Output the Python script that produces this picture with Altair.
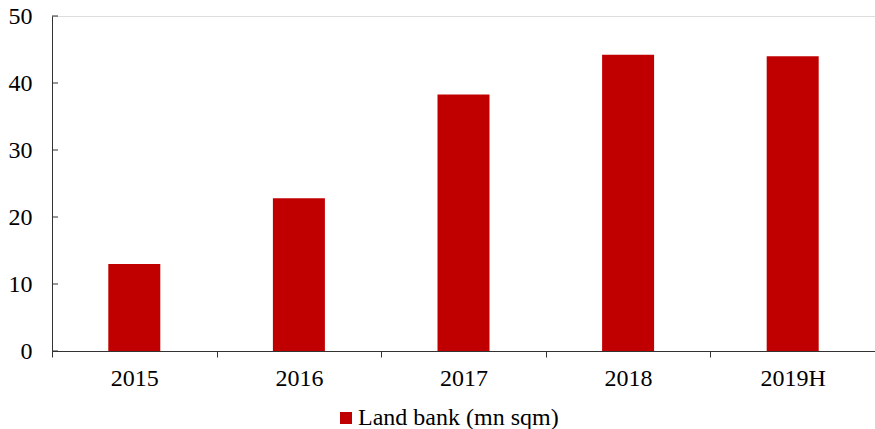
import altair as alt
import pandas as pd

years = ["2015", "2016", "2017", "2018", "2019H"]
values = [13.0, 22.8, 38.3, 44.2, 44.0]
series_name = "Land bank (mn sqm)"
y_ticks = [0, 10, 20, 30, 40, 50]

df = pd.DataFrame({"year": years, "value": values, "series": [series_name] * len(years)})
tick_df = pd.DataFrame({"t": y_ticks})

FONT = "Liberation Serif"

x_enc = alt.X(
    "year:N",
    sort=years,
    scale=alt.Scale(paddingInner=0, paddingOuter=0),
    axis=alt.Axis(
        title=None,
        labelAngle=0,
        tickBand="extent",
        tickSize=6,
        labelPadding=9,
        labelFontSize=24,
        labelFont=FONT,
        labelColor="black",
        domainColor="#333333",
        tickColor="#333333",
        grid=False,
    ),
)
y_scale = alt.Scale(domain=[0, 50], nice=False)

bars = alt.Chart(df).mark_bar(size=52).encode(
    x=x_enc,
    y=alt.Y(
        "value:Q",
        scale=y_scale,
        axis=alt.Axis(
            title=None,
            values=y_ticks,
            ticks=False,
            labelPadding=20,
            labelFontSize=24,
            labelFont=FONT,
            labelColor="black",
            domainColor="#333333",
            grid=False,
        ),
    ),
    color=alt.Color(
        "series:N",
        scale=alt.Scale(domain=[series_name], range=["#C00000"]),
        legend=alt.Legend(
            title=None,
            orient="none",
            legendX=282,
            legendY=390,
            symbolType="square",
            symbolSize=144,
            symbolStrokeWidth=0,
            labelFontSize=24,
            labelFont=FONT,
            labelColor="black",
            labelOffset=0,
            labelLimit=0,
            padding=0,
        ),
    ),
)

ticks = alt.Chart(tick_df).mark_rule(color="#333333", strokeWidth=1).encode(
    y=alt.Y("t:Q", scale=y_scale),
    x=alt.value(0),
    x2=alt.value(6),
)

chart = alt.layer(bars, ticks).properties(
    width=823,
    height=335,
    autosize=alt.AutoSizeParams(type="none"),
    padding={"left": 52, "top": 16, "right": 0, "bottom": 78},
).configure_view(stroke=None).configure(background="white")

chart.save("out.html", embed_options={"renderer": "svg", "actions": False})
